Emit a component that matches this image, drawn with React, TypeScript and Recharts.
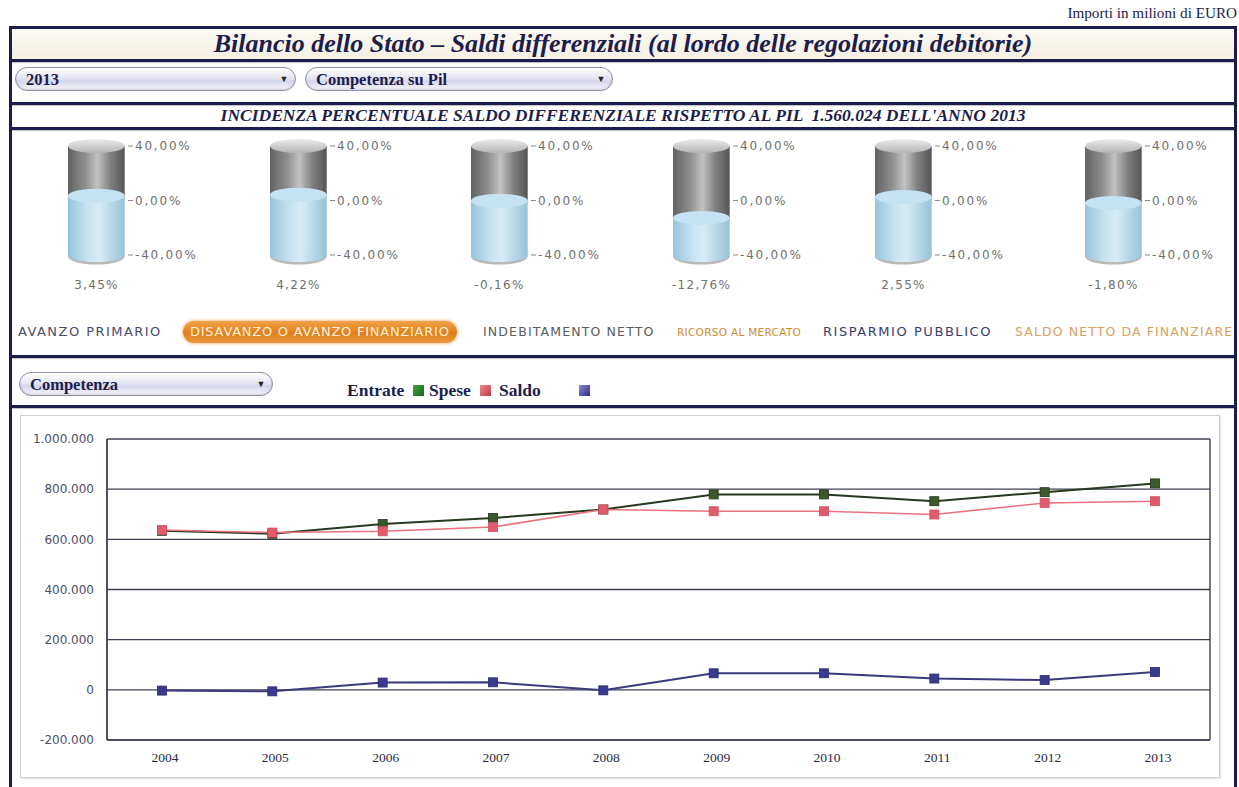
import React from 'react';
import {
  LineChart, Line, XAxis, YAxis, CartesianGrid, BarChart, Bar,
} from 'recharts';

// ---------- DATA ----------
const years = ['2004', '2005', '2006', '2007', '2008', '2009', '2010', '2011', '2012', '2013'];
const entrate = [634000, 622000, 661000, 685000, 719000, 779000, 779000, 752000, 788000, 823000];
const spese = [637000, 627000, 632000, 649000, 719000, 712000, 712000, 699000, 745000, 752000];
const saldo = [-3000, -6000, 29000, 30000, -2000, 66000, 66000, 45000, 39000, 71000];
const yTicks = [-200000, 0, 200000, 400000, 600000, 800000, 1000000];

const gaugeNames = [
  'AVANZO PRIMARIO',
  'DISAVANZO O AVANZO FINANZIARIO',
  'INDEBITAMENTO NETTO',
  'RICORSO AL MERCATO',
  'RISPARMIO PUBBLICO',
  'SALDO NETTO DA FINANZIARE',
];
const gaugeValues = [3.45, 4.22, -0.16, -12.76, 2.55, -1.8];
const gaugeTicks = [-40, 0, 40];
const gaugeMin = -40;
const gaugeMax = 40;

const seriesNames = ['Entrate', 'Spese', 'Saldo'];

const titleText = 'Bilancio dello Stato – Saldi differenziali (al lordo delle regolazioni debitorie)';
const subTitleText = "INCIDENZA PERCENTUALE SALDO DIFFERENZIALE RISPETTO AL PIL  1.560.024 DELL'ANNO 2013";
const unitText = 'Importi in milioni di EURO';
const yearSel = '2013';
const modeSel = 'Competenza su Pil';
const chartSel = 'Competenza';

// ---------- STYLE / LAYOUT ----------
const NAVY = '#1d1d4d';
const gaugeLeft = [65, 267, 468, 670, 872, 1082];
const labelStyles = [
  { left: 18, color: '#4a4a6c', fontSize: 13, letterSpacing: 1.45 },
  { left: 190, color: '#fff1dc', fontSize: 13, letterSpacing: 0.75, pill: true },
  { left: 483, color: '#5a5a5a', fontSize: 12.5, letterSpacing: 1.15 },
  { left: 677, color: '#d08a30', fontSize: 10.5, letterSpacing: 0.3 },
  { left: 823, color: '#3c3c6c', fontSize: 13, letterSpacing: 1.55 },
  { left: 1015, color: '#d9a05e', fontSize: 12.5, letterSpacing: 1.1 },
];
const legendTextLeft = [347, 429, 499];
const legendSquareLeft = [413, 480, 579];
const seriesColors = [
  { line: '#27391f', dot: '#3a5a2c', legend: ['#3fa33f', '#176b17'] },
  { line: '#e8737f', dot: '#e05c6c', legend: ['#f08a8a', '#c03a44'] },
  { line: '#3a3a7c', dot: '#3a3a8e', legend: ['#8a8ad8', '#2e2e84'] },
];

const fmtThousands = (v: number) => {
  const s = Math.abs(v).toFixed(0).replace(/\B(?=(\d{3})+(?!\d))/g, '.');
  return (v < 0 ? '-' : '') + s;
};
const fmtPct = (v: number) => v.toFixed(2).replace('.', ',') + '%';

const lineData = years.map((y, i) => ({
  year: y,
  Entrate: entrate[i],
  Spese: spese[i],
  Saldo: saldo[i],
}));

const squareDot = (fill: string, stroke: string, size: number) => (props: any) => {
  const { cx, cy, index } = props;
  if (cx == null || cy == null) return <g key={`d${index}`} />;
  return (
    <rect key={`d${index}`} x={cx - size / 2} y={cy - size / 2} width={size} height={size}
      fill={fill} stroke={stroke} strokeWidth={0.8} />
  );
};

// ---------- CYLINDER SHAPES ----------
const Liquid = (props: any) => {
  const { x, y, width, height } = props;
  const rx = width / 2;
  const ry = 7;
  const id = `liq${props.gid}`;
  return (
    <g>
      <defs>
        <linearGradient id={id} x1="0" y1="0" x2="1" y2="0">
          <stop offset="0%" stopColor="#97c4db" />
          <stop offset="35%" stopColor="#c7e3f1" />
          <stop offset="55%" stopColor="#d6ecf6" />
          <stop offset="100%" stopColor="#96c2d8" />
        </linearGradient>
      </defs>
      <ellipse cx={x + rx} cy={y + height + 1.5} rx={rx} ry={ry + 1} fill="#8a8a8a" opacity={0.6} />
      <ellipse cx={x + rx} cy={y + height} rx={rx} ry={ry} fill={`url(#${id})`} />
      <rect x={x} y={y} width={width} height={height} fill={`url(#${id})`} />
      <ellipse cx={x + rx} cy={y} rx={rx} ry={ry} fill="#c4e2f1" />
    </g>
  );
};

const Glass = (props: any) => {
  const { x, y, width, height } = props;
  const rx = width / 2;
  const ry = 7;
  const id = `gl${props.gid}`;
  const idt = `glt${props.gid}`;
  return (
    <g>
      <defs>
        <linearGradient id={id} x1="0" y1="0" x2="1" y2="0">
          <stop offset="0%" stopColor="#626262" />
          <stop offset="30%" stopColor="#8e8e8e" />
          <stop offset="52%" stopColor="#c2c2c2" />
          <stop offset="75%" stopColor="#808080" />
          <stop offset="100%" stopColor="#555555" />
        </linearGradient>
        <linearGradient id={idt} x1="0" y1="0" x2="0" y2="1">
          <stop offset="0%" stopColor="#ececec" />
          <stop offset="100%" stopColor="#b4b4b4" />
        </linearGradient>
      </defs>
      <rect x={x} y={y} width={width} height={height} fill={`url(#${id})`} />
      <ellipse cx={x + rx} cy={y} rx={rx} ry={ry} fill={`url(#${idt})`} />
    </g>
  );
};

const Gauge = ({ idx }: { idx: number }) => {
  const v = gaugeValues[idx];
  const data = [{ label: fmtPct(v), liquid: [gaugeMin, v], glass: [v, gaugeMax] }];
  return (
    <div style={{ position: 'absolute', left: gaugeLeft[idx], top: 130 }}>
      <BarChart width={140} height={170} data={data}
        margin={{ top: 16, right: 7, bottom: 0, left: 0 }} barCategoryGap={0}>
        <XAxis xAxisId="a" dataKey="label" axisLine={false} tickLine={false} tickSize={0}
          tickMargin={25} interval={0}
          tick={{ fontFamily: 'DejaVu Sans', fontSize: 12, fill: '#6f6f6f', letterSpacing: 1.3 }} height={45} />
        <XAxis xAxisId="b" dataKey="label" hide />
        <YAxis orientation="right" domain={[gaugeMin, gaugeMax]} ticks={gaugeTicks} width={70}
          axisLine={false} tickSize={5} tickMargin={2} interval={0}
          tickLine={{ stroke: '#8a8a8a' }} tickFormatter={fmtPct}
          tick={{ fontFamily: 'DejaVu Sans', fontSize: 12, fill: '#6f6f6f', letterSpacing: 1.8, textAnchor: 'start' }} />
        <Bar xAxisId="b" dataKey="glass" isAnimationActive={false} barSize={63}
          shape={(p: any) => <Glass {...p} gid={idx} />} />
        <Bar xAxisId="a" dataKey="liquid" isAnimationActive={false} barSize={63}
          shape={(p: any) => <Liquid {...p} gid={idx} />} />
      </BarChart>
    </div>
  );
};

const Select = ({ left, top, width, text }: { left: number; top: number; width: number; text: string }) => (
  <div style={{
    position: 'absolute', left, top, width, height: 24, borderRadius: 12,
    border: '1px solid #8f8fa8', boxSizing: 'border-box',
    background: 'linear-gradient(180deg, #ffffff 0%, #e6e6f3 45%, #d6d6ec 60%, #f6f6fb 100%)',
    boxShadow: 'inset 0 -1px 2px rgba(0,0,0,0.15)',
  }}>
    <span style={{
      position: 'absolute', left: 10, top: 1, fontFamily: 'Liberation Serif', fontWeight: 'bold',
      fontSize: 16.5, color: NAVY, lineHeight: '21px',
    }}>{text}</span>
    <span style={{
      position: 'absolute', right: 4, top: 1, width: 14, height: 20, fontSize: 9, color: '#222',
      lineHeight: '20px', textAlign: 'center',
    }}>▼</span>
  </div>
);

const HLine = ({ top }: { top: number }) => (
  <div style={{ position: 'absolute', left: 9, top, width: 1228, height: 3, background: NAVY,
    boxShadow: '0 1px 1px rgba(0,0,0,0.25)' }} />
);

export default function App() {
  return (
    <div style={{ position: 'absolute', left: 0, top: 0, width: 1239, height: 787, background: '#fff', overflow: 'hidden' }}>
      {/* unit note */}
      <div style={{ position: 'absolute', right: 2, top: 4, fontFamily: 'Liberation Serif', fontSize: 15.2, color: NAVY, whiteSpace: 'nowrap' }}>
        {unitText}
      </div>
      {/* outer frame */}
      <div style={{ position: 'absolute', left: 9, top: 26, width: 1228, height: 800, border: `3px solid ${NAVY}`, boxSizing: 'border-box' }} />
      {/* title row */}
      <div style={{ position: 'absolute', left: 12, top: 29, width: 1222, height: 31,
        background: 'linear-gradient(180deg, #fbf9f3 0%, #f4efe2 100%)' }} />
      <div style={{ position: 'absolute', left: 12, top: 28, width: 1222, height: 31, textAlign: 'center',
        fontFamily: 'Liberation Serif', fontStyle: 'italic', fontWeight: 'bold', fontSize: 26,
        color: NAVY, lineHeight: '31px', whiteSpace: 'nowrap' }}>
        {titleText}
      </div>
      <HLine top={59} />
      <Select left={15} top={67} width={281} text={yearSel} />
      <Select left={305} top={67} width={308} text={modeSel} />
      <HLine top={102} />
      <div style={{ position: 'absolute', left: 12, top: 104, width: 1222, height: 23, textAlign: 'center',
        fontFamily: 'Liberation Serif', fontStyle: 'italic', fontWeight: 'bold', fontSize: 17.5,
        color: NAVY, lineHeight: '23px', whiteSpace: 'pre' }}>
        {subTitleText}
      </div>
      <HLine top={127} />

      {gaugeValues.map((_, i) => <Gauge key={i} idx={i} />)}

      {/* category labels */}
      {gaugeNames.map((name, i) => {
        const s = labelStyles[i];
        if (s.pill) {
          return (
            <div key={name} style={{
              position: 'absolute', left: s.left - 7, top: 321, height: 22, padding: '0 7px',
              borderRadius: 11, background: 'linear-gradient(180deg, #f2a24a 0%, #e07f1c 55%, #eb9a3e 100%)',
              boxShadow: '0 0 3px 1px rgba(240,150,60,0.6)',
              fontFamily: 'DejaVu Sans', fontSize: s.fontSize, letterSpacing: s.letterSpacing,
              color: s.color, lineHeight: '22px', whiteSpace: 'nowrap',
            }}>{name}</div>
          );
        }
        return (
          <div key={name} style={{
            position: 'absolute', left: s.left, top: 321, height: 22, lineHeight: '22px',
            fontFamily: 'DejaVu Sans', fontSize: s.fontSize, letterSpacing: s.letterSpacing,
            color: s.color, whiteSpace: 'nowrap',
          }}>{name}</div>
        );
      })}
      <HLine top={355} />

      <Select left={19} top={372} width={254} text={chartSel} />
      {/* legend */}
      {seriesNames.map((n, i) => (
        <React.Fragment key={n}>
          <div style={{ position: 'absolute', left: legendTextLeft[i], top: 379, height: 22, lineHeight: '22px',
            fontFamily: 'Liberation Serif', fontWeight: 'bold', fontSize: 17.5, color: NAVY, whiteSpace: 'nowrap' }}>{n}</div>
          <div style={{ position: 'absolute', left: legendSquareLeft[i], top: 385, width: 11, height: 11,
            background: `linear-gradient(135deg, ${seriesColors[i].legend[0]}, ${seriesColors[i].legend[1]})` }} />
        </React.Fragment>
      ))}
      <HLine top={405} />

      {/* chart box */}
      <div style={{ position: 'absolute', left: 20, top: 415, width: 1198, height: 361,
        border: '1px solid #cfcfcf', boxShadow: '1px 1px 2px rgba(0,0,0,0.12)', background: '#fff' }} />
      <div style={{ position: 'absolute', left: 20, top: 415 }}>
        <LineChart width={1197} height={360} data={lineData}
          margin={{ top: 24, right: 7, bottom: 0, left: 0 }}>
          <CartesianGrid stroke="#3f3f52" strokeWidth={1.4}
            verticalCoordinatesGenerator={(p: any) => [p.offset.left, p.offset.left + p.offset.width]} />
          <XAxis dataKey="year" axisLine={{ stroke: '#3f3f52', strokeWidth: 1.4 }} tickLine={false}
            padding={{ left: 55, right: 55 }}
            tickSize={0} tickMargin={12} height={35} interval={0}
            tick={{ fontFamily: 'Liberation Serif', fontSize: 13.5, fill: '#2a2a45', dx: 3 }} />
          <YAxis domain={[-200000, 1000000]} ticks={yTicks} width={87} interval={0}
            axisLine={{ stroke: '#3f3f52', strokeWidth: 1.4 }} tickLine={false} tickSize={0} tickMargin={13}
            tickFormatter={fmtThousands}
            tick={{ fontFamily: 'DejaVu Sans', fontSize: 12, fill: '#4d4d6a' }} />
          <Line dataKey="Entrate" stroke={seriesColors[0].line} strokeWidth={2} isAnimationActive={false}
            dot={squareDot(seriesColors[0].dot, '#22331a', 9)} />
          <Line dataKey="Spese" stroke={seriesColors[1].line} strokeWidth={1.6} isAnimationActive={false}
            dot={squareDot(seriesColors[1].dot, '#d05060', 9)} />
          <Line dataKey="Saldo" stroke={seriesColors[2].line} strokeWidth={2} isAnimationActive={false}
            dot={squareDot(seriesColors[2].dot, '#2a2a70', 9)} />
        </LineChart>
      </div>
    </div>
  );
}
